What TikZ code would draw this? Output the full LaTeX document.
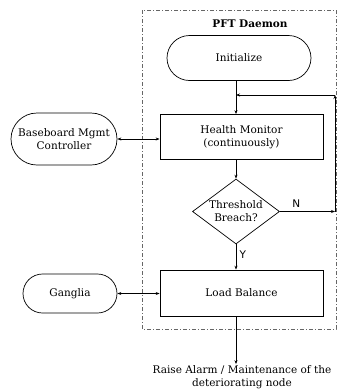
\documentclass[tikz,border=0pt]{standalone}
\usepackage{fontspec}
\setmainfont{DejaVu Serif}
\newfontfamily\lblfont{DejaVu Sans}
\usetikzlibrary{shapes.misc,shapes.geometric,arrows.meta}
\begin{document}
\begin{tikzpicture}[x=1pt,y=-1pt,
 font=\fontsize{10.5}{13}\selectfont,
 stadium/.style={draw,rounded rectangle,inner sep=0pt,align=center,line width=0.7pt},
 boxnode/.style={draw,rectangle,inner sep=0pt,align=center,minimum width=163pt,line width=0.7pt},
 decision/.style={draw,diamond,inner sep=0pt,minimum width=87pt,minimum height=65pt,line width=0.7pt},
 arr/.style={-{Stealth[length=4pt,width=3pt]},line width=0.7pt},
 darr/.style={{Stealth[length=4pt,width=3pt]}-{Stealth[length=4pt,width=3pt]},line width=0.7pt},
 region/.style={draw=black!60,dash pattern=on 4pt off 2pt on 1pt off 2pt,line width=0.7pt},
 lbl/.style={font=\lblfont\fontsize{10.5}{12}\selectfont}]
\useasboundingbox (0,0) rectangle (337,392);
\draw[region] (142,10) rectangle (336,329);
\node (title) at (250,24) {\textbf{PFT Daemon}};
\node[stadium,minimum width=144pt,minimum height=45pt] (init) at (239,58) {Initialize};
\node[boxnode,minimum height=45pt] (hm) at (241.5,137) {Health Monitor\\(continuously)};
\node[decision,label={[align=center,inner sep=0pt]center:Threshold\\Breach?}] (dec) at (236,211.5) {};
\node[boxnode,minimum height=46pt] (lb) at (241.5,293) {Load Balance};
\node[stadium,minimum width=106pt,minimum height=52pt] (bmc) at (64,139) {Baseboard Mgmt\\Controller};
\node[stadium,minimum width=94pt,minimum height=39pt] (gang) at (70,293.5) {Ganglia};
\node[align=center,inner sep=1pt] (alarm) at (242,377) {Raise Alarm / Maintenance of the\\deteriorating node};
\coordinate (loopin) at (236,95);
\coordinate (loopcorner) at (335,95);
\coordinate (ncorner) at (335,211.5);
\draw[arr] (dec.north |- init.south) -- (dec.north |- hm.north);
\draw[arr] (dec.north |- hm.south) -- (dec.north);
\draw[arr] (dec.east) -- node[lbl,above,pos=0.3] {N} (ncorner);
\draw[arr] (ncorner) -- (loopcorner);
\draw[arr] (loopcorner) -- (loopin);
\draw[arr] (dec.south) -- node[lbl,right,pos=0.4] {Y} (dec.south |- lb.north);
\draw[darr] (bmc.east) -- (bmc.east -| hm.west);
\draw[darr] (gang.east) -- (gang.east -| lb.west);
\draw[arr] (dec.south |- lb.south) -- (dec.south |- alarm.north);
\end{tikzpicture}
\end{document}
